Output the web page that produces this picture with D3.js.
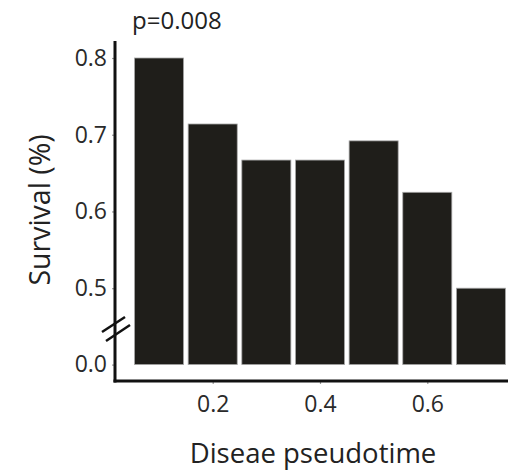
<!DOCTYPE html>
<html>
<head>
<meta charset="utf-8">
<script src="https://cdn.jsdelivr.net/npm/d3@7"></script>
<style>
  html, body { margin: 0; padding: 0; background: #fff; }
  svg { display: block; font-family: "Open Sans", "Noto Sans", sans-serif; }
</style>
</head>
<body>
<svg id="chart" width="508" height="472"></svg>
<script>
// Bin centres of disease pseudotime (bin width 0.1)
const binCenters = [0.1, 0.2, 0.3, 0.4, 0.5, 0.6, 0.7];
// Survival fraction per bin
const survival = [0.8, 0.714, 0.667, 0.667, 0.692, 0.625, 0.5];
const binWidth = 0.1;
const xTicks = [0.2, 0.4, 0.6];
const yTicks = [0.0, 0.5, 0.6, 0.7, 0.8];
const pLabel = "p=0.008";
const xTitle = "Diseae pseudotime";
const yTitle = "Survival (%)";

const svg = d3.select("#chart");

const axisX = 115, axisY = 381;

const x = d3.scaleLinear().domain([0.2, 0.6]).range([212.7, 427.3]);
// Broken y scale: 0.0 sits one step below 0.5, above that it is linear
const y = d3.scaleLinear().domain([0, 0.5, 0.8]).range([364.6, 288.2, 58]);

// Bars
const inset = 2.3;
svg.append("g").selectAll("rect")
  .data(binCenters.map((c, i) => ({ c, v: survival[i] })))
  .join("rect")
  .attr("x", d => x(d.c - binWidth / 2) + inset)
  .attr("width", d => x(d.c + binWidth / 2) - x(d.c - binWidth / 2) - 2 * inset)
  .attr("y", d => y(d.v))
  .attr("height", d => y(0) - y(d.v))
  .attr("fill", "#1f1e1a")
  .attr("stroke", "#a8a8a8")
  .attr("stroke-width", 0.8);

// Y axis
const yAxis = svg.append("g")
  .attr("transform", `translate(${axisX},0)`)
  .call(d3.axisLeft(y).tickValues(yTicks).tickFormat(d3.format(".1f")).tickSize(3).tickPadding(5));
yAxis.select(".domain").remove();
yAxis.selectAll(".tick line").attr("stroke", "#999").attr("stroke-width", 1.2);
yAxis.selectAll(".tick text")
  .attr("font-family", "Open Sans")
  .attr("font-size", 23)
  .attr("fill", "#2a2a2a");

// X axis
const xAxis = svg.append("g")
  .attr("transform", `translate(0,${axisY})`)
  .call(d3.axisBottom(x).tickValues(xTicks).tickFormat(d3.format(".1f")).tickSize(3).tickPadding(12));
xAxis.select(".domain").remove();
xAxis.selectAll(".tick line").attr("stroke", "#999").attr("stroke-width", 1.2);
xAxis.selectAll(".tick text")
  .attr("font-family", "Open Sans")
  .attr("font-size", 23)
  .attr("fill", "#2a2a2a");

// Axis lines
svg.append("line")
  .attr("x1", axisX).attr("x2", axisX)
  .attr("y1", 41).attr("y2", axisY + 1.5)
  .attr("stroke", "#111").attr("stroke-width", 3);
svg.append("line")
  .attr("x1", axisX - 1.5).attr("x2", 508)
  .attr("y1", axisY).attr("y2", axisY)
  .attr("stroke", "#111").attr("stroke-width", 3);

// Axis break marks
const breakY = (y(0) + y(0.5)) / 2;
[[-13, 5.6, 10, -9.4], [-9, 14.6, 15, -1.4]].forEach(([dx1, dy1, dx2, dy2]) => {
  svg.append("line")
    .attr("x1", axisX + dx1).attr("y1", breakY + dy1)
    .attr("x2", axisX + dx2).attr("y2", breakY + dy2)
    .attr("stroke", "#111").attr("stroke-width", 2.5);
});

// Titles
svg.append("text")
  .attr("x", 313).attr("y", 463)
  .attr("text-anchor", "middle")
  .attr("font-size", 27.5)
  .attr("fill", "#222")
  .text(xTitle);

svg.append("text")
  .attr("transform", "translate(50,210) rotate(-90)")
  .attr("text-anchor", "middle")
  .attr("font-size", 28.5)
  .attr("fill", "#222")
  .text(yTitle);

svg.append("text")
  .attr("x", 132).attr("y", 29)
  .attr("font-size", 24)
  .attr("fill", "#222")
  .text(pLabel);
</script>
</body>
</html>
